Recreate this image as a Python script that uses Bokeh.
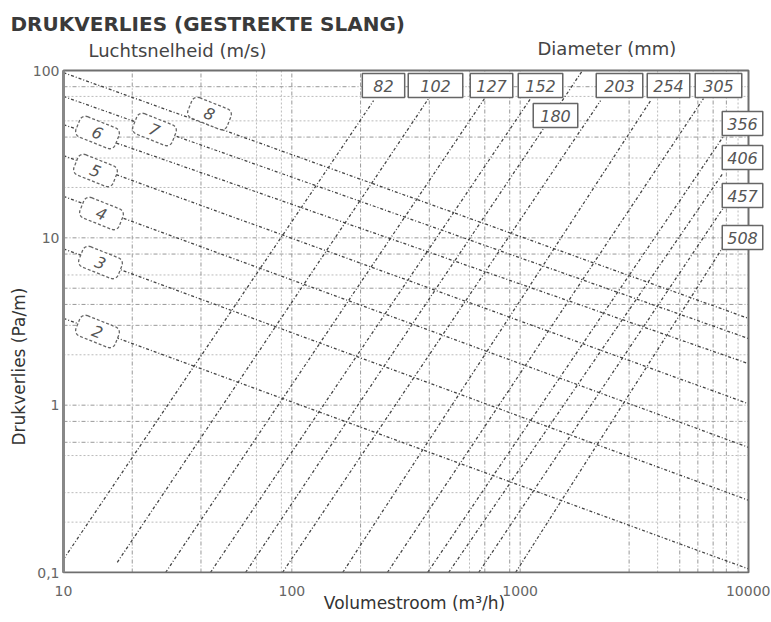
from bokeh.plotting import figure
from bokeh.models import Label, FixedTicker, CustomJSTickFormatter, Range1d, Title
from bokeh.embed import file_html
from bokeh.resources import INLINE

# ---------------- data ----------------
# air velocity lines (m/s): straight lines in log-log, start (Q=10) and end (Q=10000)
VELOCITY = [2, 3, 4, 5, 6, 7, 8]
VEL_Q_START = [10, 10, 10, 10, 10, 10, 10]
VEL_DP_START = [3.3, 8.6, 17.7, 31.0, 47.5, 70.0, 97.0]
VEL_Q_END = [10000, 10000, 10000, 10000, 10000, 10000, 10000]
VEL_DP_END = [0.105, 0.27, 0.56, 1.02, 1.77, 2.5, 3.3]

# diameter lines (mm)
DIAMETER = [82, 102, 127, 152, 180, 203, 254, 305, 356, 406, 457, 508]
DIA_Q_START = [10, 17.2, 28, 44, 62.7, 91, 167, 262, 393, 486, 658, 955]
DIA_DP_START = [0.12, 0.115, 0.1, 0.1, 0.1, 0.1, 0.1, 0.1, 0.1, 0.1, 0.1, 0.1]
DIA_Q_END = [228, 397, 698, 1111, 1875, 2249, 3725, 6350, 7710, 7710, 7780, 7710]
DIA_DP_END = [66, 68, 68, 68, 100, 66, 66, 68, 39.8, 24.2, 15.2, 8.75]

X_TICKS = [10, 100, 1000, 10000]
Y_TICKS = [0.1, 1, 10, 100]
X_GRID_DARK = [20, 40, 100, 200, 400, 700, 900, 1000, 3000, 5000, 6000, 7000, 8000]
X_GRID_LIGHT = [70, 90, 600, 4000, 9000]
Y_GRID_DARK = [80, 40, 10, 8, 5, 4, 3, 1, 0.8, 0.6]
Y_GRID_LIGHT = [70, 50, 30, 20, 6, 2, 0.5, 0.3, 0.2]

# ---------------- layout (page pixels) ----------------
FX0, FX1 = 63, 748      # page x of Q=10 and Q=10000
FY0, FY1 = 70, 572      # page y of dp=100 and dp=0.1
DEC_X = (FX1 - FX0) / 3.0
DEC_Y = (FY1 - FY0) / 3.0
FRAME_L, FRAME_R, FRAME_T, FRAME_B = 61, 767, 36, 573
FONT = "DejaVu Sans"


def dx(px):
    return 10 ** (1 + (px - FX0) / DEC_X)


def dy(py):
    return 10 ** (2 - (py - FY0) / DEC_Y)


xmin, xmax = X_TICKS[0], X_TICKS[-1]
ymin, ymax = Y_TICKS[0], Y_TICKS[-1]

p = figure(x_axis_type="log", y_axis_type="log",
           x_range=Range1d(dx(FRAME_L), dx(FRAME_R)),
           y_range=Range1d(dy(FRAME_B), dy(FRAME_T)),
           frame_width=FRAME_R - FRAME_L, frame_height=FRAME_B - FRAME_T,
           min_border_left=FRAME_L, min_border_right=3,
           min_border_top=FRAME_T, min_border_bottom=46,
           output_backend="svg", toolbar_location=None)

p.xgrid.visible = False
p.ygrid.visible = False
p.outline_line_color = None
p.background_fill_color = "white"
p.border_fill_color = "white"

for ax in (p.xaxis, p.yaxis):
    ax.major_tick_line_color = None
    ax.minor_tick_line_color = None
    ax.major_tick_out = 0
    ax.major_tick_in = 0
    ax.minor_tick_out = 0
    ax.minor_tick_in = 0
    ax.axis_line_color = None
    ax.major_label_text_font = FONT
    ax.major_label_text_font_size = "14px"
    ax.major_label_text_color = "#666666"

p.xaxis.ticker = FixedTicker(ticks=X_TICKS)
p.yaxis.ticker = FixedTicker(ticks=Y_TICKS)
p.xaxis.formatter = CustomJSTickFormatter(code="return String(tick)")
p.yaxis.formatter = CustomJSTickFormatter(code="return String(tick).replace('.', ',')")
p.xaxis.major_label_standoff = 12
p.yaxis.major_label_standoff = 2
p.xaxis.axis_label = "Volumestroom (m³/h)"
p.xaxis.axis_label_text_font = FONT
p.xaxis.axis_label_text_font_size = "17px"
p.xaxis.axis_label_text_font_style = "normal"
p.xaxis.axis_label_text_color = "#333333"
p.xaxis.axis_label_standoff = -6

# titles
p.title.text = "DRUKVERLIES (GESTREKTE SLANG)"
p.title.align = "left"
p.title.offset = 10 - FRAME_L
p.title.standoff = 2
p.title.text_font = FONT
p.title.text_font_style = "bold"
p.title.text_font_size = "20px"
p.title.text_color = "#3a3a3a"

p.add_layout(Title(text="Drukverlies (Pa/m)", align="left", offset=FRAME_B - 445,
                   text_font=FONT, text_font_size="17px", text_font_style="normal",
                   text_color="#333333", standoff=2), "left")

# ---------------- grid ----------------
p.segment(x0=X_GRID_LIGHT, y0=[ymin] * len(X_GRID_LIGHT), x1=X_GRID_LIGHT, y1=[ymax] * len(X_GRID_LIGHT),
          line_color="#bbbbbb", line_width=1, line_dash="2 2")
p.segment(x0=[xmin] * len(Y_GRID_LIGHT), y0=Y_GRID_LIGHT, x1=[xmax] * len(Y_GRID_LIGHT), y1=Y_GRID_LIGHT,
          line_color="#bbbbbb", line_width=1, line_dash="2 2")
p.segment(x0=X_GRID_DARK, y0=[ymin] * len(X_GRID_DARK), x1=X_GRID_DARK, y1=[ymax] * len(X_GRID_DARK),
          line_color="#999999", line_width=1, line_dash="4 2 1 2")
p.segment(x0=[xmin] * len(Y_GRID_DARK), y0=Y_GRID_DARK, x1=[xmax] * len(Y_GRID_DARK), y1=Y_GRID_DARK,
          line_color="#999999", line_width=1, line_dash="4 2 1 2")

# ---------------- data lines ----------------
p.segment(x0=VEL_Q_START, y0=VEL_DP_START, x1=VEL_Q_END, y1=VEL_DP_END,
          line_color="#444444", line_width=1.3, line_dash="3 2 1 2")
p.segment(x0=DIA_Q_START, y0=DIA_DP_START, x1=DIA_Q_END, y1=DIA_DP_END,
          line_color="#444444", line_width=1.3, line_dash="3 2 1 2")

# ---------------- plot border ----------------
p.quad(left=[xmin], right=[xmax], bottom=[ymin], top=[ymax], fill_color=None,
       line_color="#6f6f6f", line_width=2)
p.segment(x0=[xmin], y0=[ymin], x1=[xmin], y1=[ymax], line_color="#888888", line_width=3)

# ---------------- label boxes ----------------
# diameter labels: (page x center, page y center, horizontal padding)
DIA_LABEL_POS = {
    82: (383, 85, 11), 102: (435, 85, 12), 127: (491, 85, 6), 152: (540, 85, 7),
    180: (555, 115, 7), 203: (619, 85, 8), 254: (668, 85, 6), 305: (718, 85, 8),
    356: (742, 123, 5), 406: (742, 157, 5), 457: (742, 195, 5), 508: (742, 237, 5),
}
for d in DIAMETER:
    px, py, pad = DIA_LABEL_POS[d]
    p.add_layout(Label(x=dx(px), y=dy(py), text=str(d), text_align="center", text_baseline="middle",
                       text_font=FONT, text_font_style="italic", text_font_size="16px",
                       text_color="#555555", background_fill_color="white",
                       border_line_color="#666666", border_line_width=1.5,
                       padding=(pad, 6)))

# velocity labels: tilted dashed boxes
VEL_LABEL_POS = {
    2: (97, 331), 3: (100, 262), 4: (101, 213), 5: (95, 170),
    6: (97, 132), 7: (154, 129), 8: (209, 113),
}
for v in VELOCITY:
    px, py = VEL_LABEL_POS[v]
    p.add_layout(Label(x=dx(px), y=dy(py), text=str(v), text_align="center", text_baseline="middle",
                       angle=-0.38, text_font=FONT, text_font_style="italic", text_font_size="16px",
                       text_color="#555555", background_fill_color="white",
                       border_line_color="#666666", border_line_width=1.3, border_line_dash="3 2",
                       border_radius=6, padding=(16, 5)))

# sub headings (inside the extended frame, above the plot area)
p.add_layout(Label(x=dx(88), y=dy(50), text="Luchtsnelheid (m/s)", text_align="left",
                   text_baseline="middle", text_font=FONT, text_font_size="18px",
                   text_color="#444444"))
p.add_layout(Label(x=dx(537), y=dy(48), text="Diameter (mm)", text_align="left",
                   text_baseline="middle", text_font=FONT, text_font_size="18px",
                   text_color="#444444"))

open("out.html", "w").write(file_html(p, INLINE))
